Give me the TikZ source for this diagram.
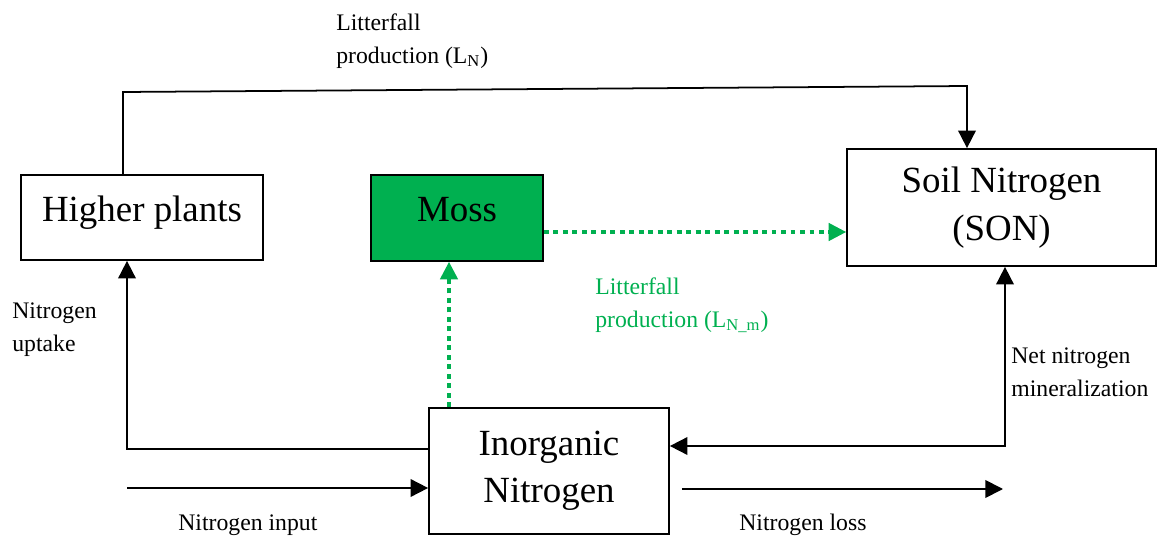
\documentclass[tikz,border=0pt]{standalone}
\usepackage{fontspec}
\setmainfont{Liberation Serif}
\usetikzlibrary{arrows.meta}
\definecolor{mossgreen}{HTML}{00B050}
\tikzset{
  box/.style={draw,line width=1pt,align=center,inner sep=0pt,font=\fontsize{21}{27}\selectfont},
  lbl/.style={align=left,inner sep=0pt,anchor=north west,font=\fontsize{13.5}{18.8}\selectfont},
  flow/.style={line width=1pt,-{Triangle[length=10pt,width=10pt]}},
  mossflow/.style={mossgreen,line width=1.8pt,dash pattern=on 2.8pt off 2.6pt,-{Triangle[length=10pt,width=10pt]}}
}
\begin{document}
\begin{tikzpicture}[x=0.02cm,y=-0.02cm]
\useasboundingbox (0,0) rectangle (1164,537);
% pools
\node[box,minimum width=4.84cm,minimum height=1.7cm,text depth=0.35cm] (plants) at (142,217.5) {Higher plants};
\node[box,fill=mossgreen,minimum width=3.44cm,minimum height=1.72cm,text depth=0.35cm] (moss) at (457,218) {Moss};
\node[box,minimum width=6.18cm,minimum height=2.34cm] (son) at (1001.5,207.5) {Soil Nitrogen\\(SON)};
\node[box,minimum width=4.8cm,minimum height=2.52cm] (inorg) at (549,471) {Inorganic\\Nitrogen};
% bend points
\coordinate (lt) at (123,92);
\coordinate (rt) at (967,86);
\coordinate (up) at (127,449);
\coordinate (mu) at (449,408);
\coordinate (ms) at (543,232);
\coordinate (mn) at (1005,446);
\coordinate (nin) at (127,488);
\coordinate (nout) at (1003,489);
% fluxes
\draw[flow] (plants.north -| lt) -- (lt) -- (rt) -- (rt |- son.north);
\draw[flow] (inorg.west |- up) -- (up) -- (up |- plants.south);
\draw[flow,{Triangle[length=10pt,width=10pt]}-{Triangle[length=10pt,width=10pt]}] (inorg.east |- mn) -- (mn) -- (mn |- son.south);
\draw[flow] (nin) -- (nin -| inorg.west);
\draw[flow] ([xshift=0.24cm]inorg.east |- nout) -- (nout);
\draw[mossflow] (inorg.north -| mu) -- (mu |- moss.south);
\draw[mossflow] (moss.east |- ms) -- (son.west |- ms);
% labels
\node[lbl] (lblLN) at (336,13) {Litterfall\\production (L\textsubscript{N})};
\node[lbl,text=mossgreen] (lblLNm) at (595,277) {Litterfall\\production (L\textsubscript{N\_m})};
\node[lbl] (lblup) at (12,302) {Nitrogen\\uptake};
\node[lbl] (lblmin) at (1011,347) {Net nitrogen\\mineralization};
\node[lbl] (lblin) at (178,514) {Nitrogen input};
\node[lbl] (lblloss) at (739,514) {Nitrogen loss};
\end{tikzpicture}
\end{document}
